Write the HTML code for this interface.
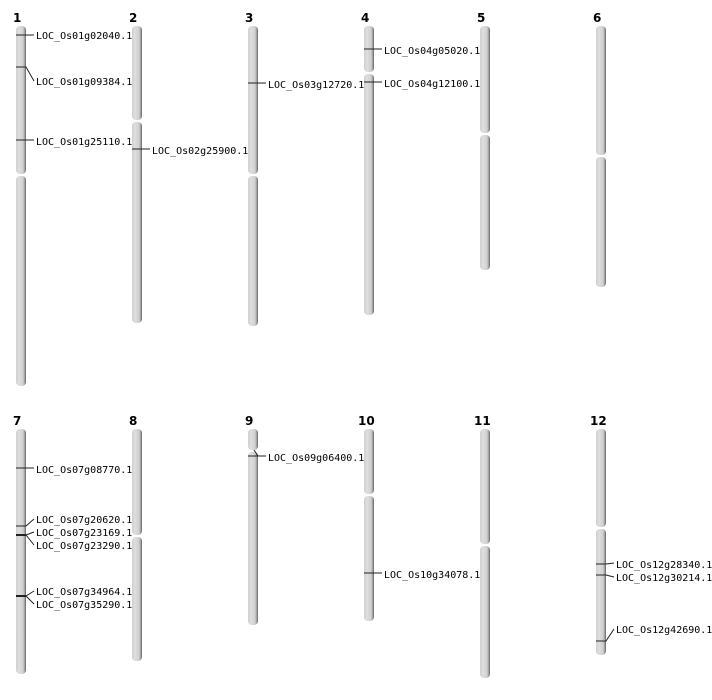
<!DOCTYPE html>
<html><head><meta charset="utf-8"><style>
html,body{margin:0;padding:0;background:#fff}
svg{display:block}
text{font-family:"DejaVu Sans Mono","Liberation Mono",monospace;font-size:10px;fill:#000}
.n{font-family:"DejaVu Sans","Liberation Sans",sans-serif;font-weight:bold;font-size:12px}
.m{stroke:#222;stroke-width:1;fill:none}
</style></head><body>
<svg width="712" height="700" viewBox="0 0 712 700" xmlns="http://www.w3.org/2000/svg">
<defs>
<linearGradient id="g" x1="0" x2="1" y1="0" y2="0">
<stop offset="0" stop-color="#cfcfcf"/><stop offset="0.3" stop-color="#dedede"/><stop offset="0.7" stop-color="#d0d0d0"/><stop offset="0.85" stop-color="#a8a8a8"/><stop offset="1" stop-color="#606060"/>
</linearGradient>
</defs>
<g fill="url(#g)">
<rect x="16" y="26" width="10" height="148" rx="4"/><rect x="16" y="176" width="10" height="210" rx="4"/>
<rect x="132" y="26" width="10" height="94" rx="4"/><rect x="132" y="122" width="10" height="201" rx="4"/>
<rect x="248" y="26" width="10" height="148" rx="4"/><rect x="248" y="176" width="10" height="150" rx="4"/>
<rect x="364" y="26" width="10" height="46" rx="4"/><rect x="364" y="74" width="10" height="241" rx="4"/>
<rect x="480" y="26" width="10" height="107" rx="4"/><rect x="480" y="135" width="10" height="135" rx="4"/>
<rect x="596" y="26" width="10" height="129" rx="4"/><rect x="596" y="157" width="10" height="130" rx="4"/>
<rect x="16" y="429" width="10" height="245" rx="4"/>
<rect x="132" y="429" width="10" height="106" rx="4"/><rect x="132" y="537" width="10" height="124" rx="4"/>
<rect x="248" y="429" width="10" height="21" rx="4"/><rect x="248" y="452" width="10" height="173" rx="4"/>
<rect x="364" y="429" width="10" height="65" rx="4"/><rect x="364" y="496" width="10" height="125" rx="4"/>
<rect x="480" y="429" width="10" height="115" rx="4"/><rect x="480" y="546" width="10" height="132" rx="4"/>
<rect x="596" y="429" width="10" height="98" rx="4"/><rect x="596" y="529" width="10" height="126" rx="4"/>
</g>
<text class="n" x="13" y="22">1</text><text class="n" x="129" y="22">2</text><text class="n" x="245" y="22">3</text><text class="n" x="361" y="22">4</text><text class="n" x="477" y="22">5</text><text class="n" x="593" y="22">6</text>
<text class="n" x="13" y="425">7</text><text class="n" x="129" y="425">8</text><text class="n" x="245" y="425">9</text><text class="n" x="358" y="425">10</text><text class="n" x="474" y="425">11</text><text class="n" x="590" y="425">12</text>
<g class="m">
<path d="M16 35H34"/><path d="M16 67H26L34 81"/><path d="M16 140H34"/>
<path d="M132 149H150"/>
<path d="M248 83H266"/>
<path d="M364 49H382"/><path d="M364 82H382"/>
<path d="M16 468H34"/>
<path d="M16 526H26L34 519"/><path d="M16 535H26L34 532"/><path d="M16 535H26L34 545"/>
<path d="M16 596H26L34 591"/><path d="M16 596H26L34 604"/>
<path d="M248 456H258L254 450"/><path d="M258 456H266"/>
<path d="M364 573H382"/>
<path d="M596 564H606L614 563"/><path d="M596 575H606L614 577"/><path d="M596 641H606L614 629"/>
</g>
<path d="M16 535H26M16 596H26" stroke="#222" stroke-width="2"/>
<text x="36" y="39">LOC_Os01g02040.1</text>
<text x="36" y="85">LOC_Os01g09384.1</text>
<text x="36" y="145">LOC_Os01g25110.1</text>
<text x="152" y="154">LOC_Os02g25900.1</text>
<text x="268" y="88">LOC_Os03g12720.1</text>
<text x="384" y="54">LOC_Os04g05020.1</text>
<text x="384" y="87">LOC_Os04g12100.1</text>
<text x="36" y="473">LOC_Os07g08770.1</text>
<text x="36" y="523">LOC_Os07g20620.1</text>
<text x="36" y="536">LOC_Os07g23169.1</text>
<text x="36" y="549">LOC_Os07g23290.1</text>
<text x="36" y="595">LOC_Os07g34964.1</text>
<text x="36" y="608">LOC_Os07g35290.1</text>
<text x="268" y="461">LOC_Os09g06400.1</text>
<text x="384" y="578">LOC_Os10g34078.1</text>
<text x="616" y="568">LOC_Os12g28340.1</text>
<text x="616" y="581">LOC_Os12g30214.1</text>
<text x="616" y="633">LOC_Os12g42690.1</text>
</svg>
</body></html>
